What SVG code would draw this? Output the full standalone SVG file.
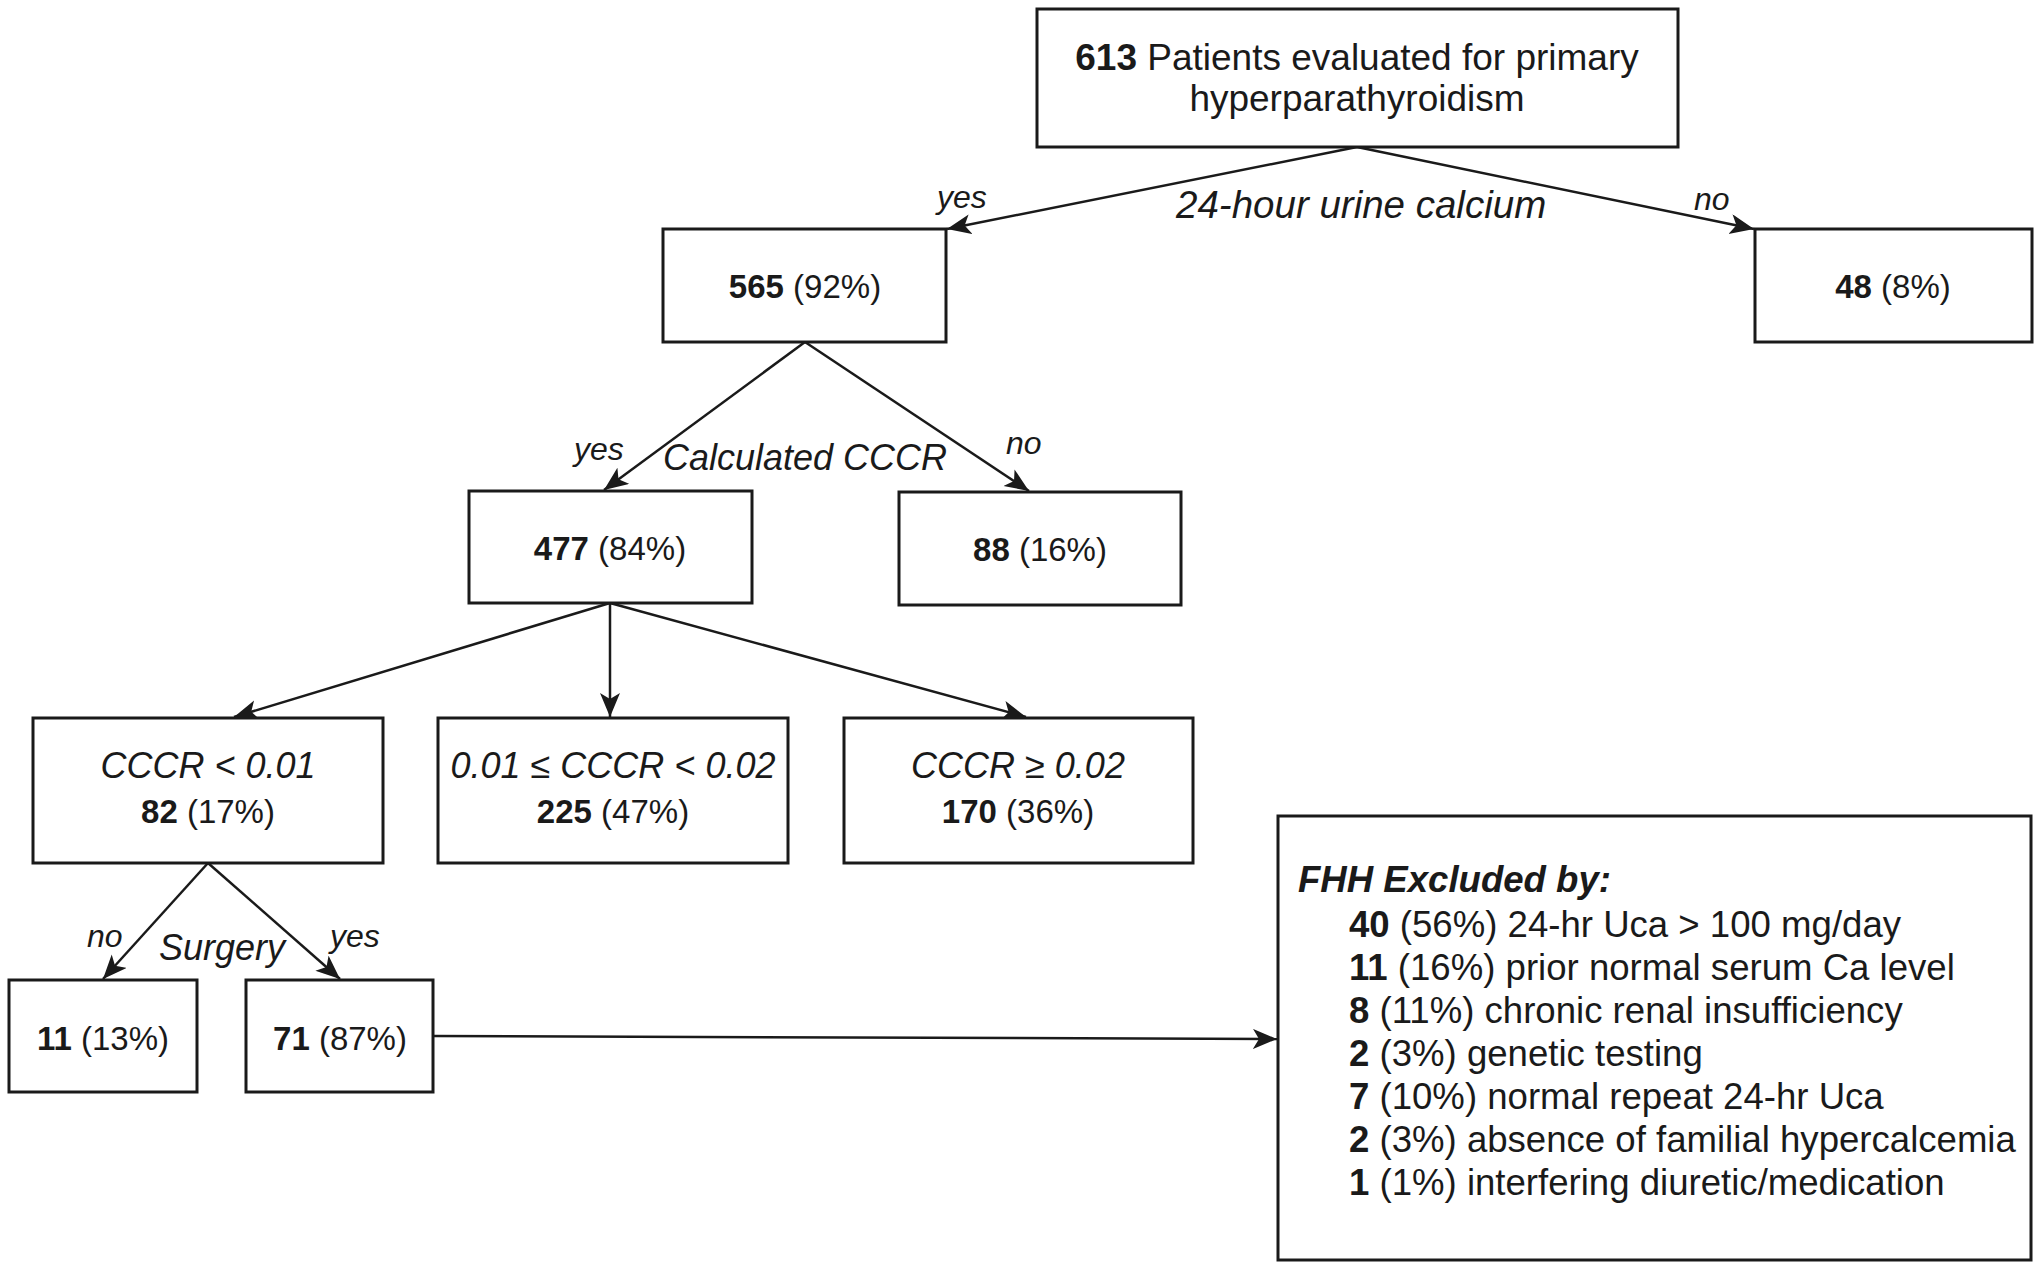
<svg xmlns="http://www.w3.org/2000/svg" width="2040" height="1273" viewBox="0 0 2040 1273">
<style>
.box{fill:#fff;stroke:#1a1a1a;stroke-width:3}
.t{font-family:"Liberation Sans",Arial,Helvetica,sans-serif;fill:#1a1a1a}
.n{font-size:33px}
.top{font-size:37px}
.lbl{font-size:32px;font-style:italic}
.q{font-size:36px;font-style:italic}
.cond{font-size:36px;font-style:italic}
.fhh{font-size:36.6px}
.b{font-weight:bold}
.edge{fill:none;stroke:#1a1a1a;stroke-width:2.5}
</style>
<defs>
<marker id="ah" markerUnits="userSpaceOnUse" markerWidth="26" markerHeight="22" refX="24" refY="10" orient="auto">
<path d="M0,0 L24,10 L0,20 L6,10 z" fill="#1a1a1a"/>
</marker>
</defs>
<rect width="2040" height="1273" fill="#fff"/>
<g id="connectors">
<line class="edge" x1="1357" y1="147" x2="947" y2="229" marker-end="url(#ah)"/>
<line class="edge" x1="1357" y1="147" x2="1754" y2="229" marker-end="url(#ah)"/>
<line class="edge" x1="805" y1="342" x2="604" y2="490" marker-end="url(#ah)"/>
<line class="edge" x1="805" y1="342" x2="1029" y2="491" marker-end="url(#ah)"/>
<line class="edge" x1="610" y1="603" x2="234" y2="717" marker-end="url(#ah)"/>
<line class="edge" x1="610" y1="603" x2="610" y2="717" marker-end="url(#ah)"/>
<line class="edge" x1="610" y1="603" x2="1026" y2="717" marker-end="url(#ah)"/>
<line class="edge" x1="208" y1="863" x2="103" y2="979" marker-end="url(#ah)"/>
<line class="edge" x1="208" y1="863" x2="340" y2="979" marker-end="url(#ah)"/>
<line class="edge" x1="433" y1="1036" x2="1277" y2="1039" marker-end="url(#ah)"/>
<text class="t q" x="1176" y="218" style="font-size:38.5px">24-hour urine calcium</text>
<text class="t lbl" x="937" y="208">yes</text>
<text class="t lbl" x="1694" y="210">no</text>
<text class="t q" x="663" y="470">Calculated CCCR</text>
<text class="t lbl" x="574" y="460">yes</text>
<text class="t lbl" x="1006" y="454">no</text>
<text class="t lbl" x="87" y="947">no</text>
<text class="t q" x="159" y="960">Surgery</text>
<text class="t lbl" x="330" y="947">yes</text>
</g>
<g id="n613">
<rect class="box" x="1037" y="9" width="641" height="138"/>
<text class="t top" x="1357" y="70" text-anchor="middle"><tspan class="b">613</tspan> Patients evaluated for primary</text>
<text class="t top" x="1357" y="111" text-anchor="middle">hyperparathyroidism</text>
</g>
<g id="n565">
<rect class="box" x="663" y="229" width="283" height="113"/>
<text class="t n" x="805" y="298" text-anchor="middle"><tspan class="b">565</tspan> (92%)</text>
</g>
<g id="n48">
<rect class="box" x="1755" y="229" width="277" height="113"/>
<text class="t n" x="1893" y="298" text-anchor="middle"><tspan class="b">48</tspan> (8%)</text>
</g>
<g id="n477">
<rect class="box" x="469" y="491" width="283" height="112"/>
<text class="t n" x="610" y="560" text-anchor="middle"><tspan class="b">477</tspan> (84%)</text>
</g>
<g id="n88">
<rect class="box" x="899" y="492" width="282" height="113"/>
<text class="t n" x="1040" y="561" text-anchor="middle"><tspan class="b">88</tspan> (16%)</text>
</g>
<g id="nlow">
<rect class="box" x="33" y="718" width="350" height="145"/>
<text class="t cond" x="208" y="778" text-anchor="middle">CCCR &lt; 0.01</text>
<text class="t n" x="208" y="823" text-anchor="middle"><tspan class="b">82</tspan> (17%)</text>
</g>
<g id="nmid">
<rect class="box" x="438" y="718" width="350" height="145"/>
<text class="t cond" x="613" y="778" text-anchor="middle">0.01 ≤ CCCR &lt; 0.02</text>
<text class="t n" x="613" y="823" text-anchor="middle"><tspan class="b">225</tspan> (47%)</text>
</g>
<g id="nhigh">
<rect class="box" x="844" y="718" width="349" height="145"/>
<text class="t cond" x="1018" y="778" text-anchor="middle">CCCR ≥ 0.02</text>
<text class="t n" x="1018" y="823" text-anchor="middle"><tspan class="b">170</tspan> (36%)</text>
</g>
<g id="n11">
<rect class="box" x="9" y="980" width="188" height="112"/>
<text class="t n" x="103" y="1050" text-anchor="middle"><tspan class="b">11</tspan> (13%)</text>
</g>
<g id="n71">
<rect class="box" x="246" y="980" width="187" height="112"/>
<text class="t n" x="340" y="1050" text-anchor="middle"><tspan class="b">71</tspan> (87%)</text>
</g>
<g id="nfhh">
<rect class="box" x="1278" y="816" width="753" height="444"/>
<text class="t fhh b" x="1298" y="892" font-style="italic">FHH Excluded by:</text>
<text class="t fhh" x="1349" y="937"><tspan class="b">40</tspan> (56%) 24-hr Uca &gt; 100 mg/day</text>
<text class="t fhh" x="1349" y="980"><tspan class="b">11</tspan> (16%) prior normal serum Ca level</text>
<text class="t fhh" x="1349" y="1023"><tspan class="b">8</tspan> (11%) chronic renal insufficiency</text>
<text class="t fhh" x="1349" y="1066"><tspan class="b">2</tspan> (3%) genetic testing</text>
<text class="t fhh" x="1349" y="1109"><tspan class="b">7</tspan> (10%) normal repeat 24-hr Uca</text>
<text class="t fhh" x="1349" y="1152"><tspan class="b">2</tspan> (3%) absence of familial hypercalcemia</text>
<text class="t fhh" x="1349" y="1195"><tspan class="b">1</tspan> (1%) interfering diuretic/medication</text>
</g>
</svg>
